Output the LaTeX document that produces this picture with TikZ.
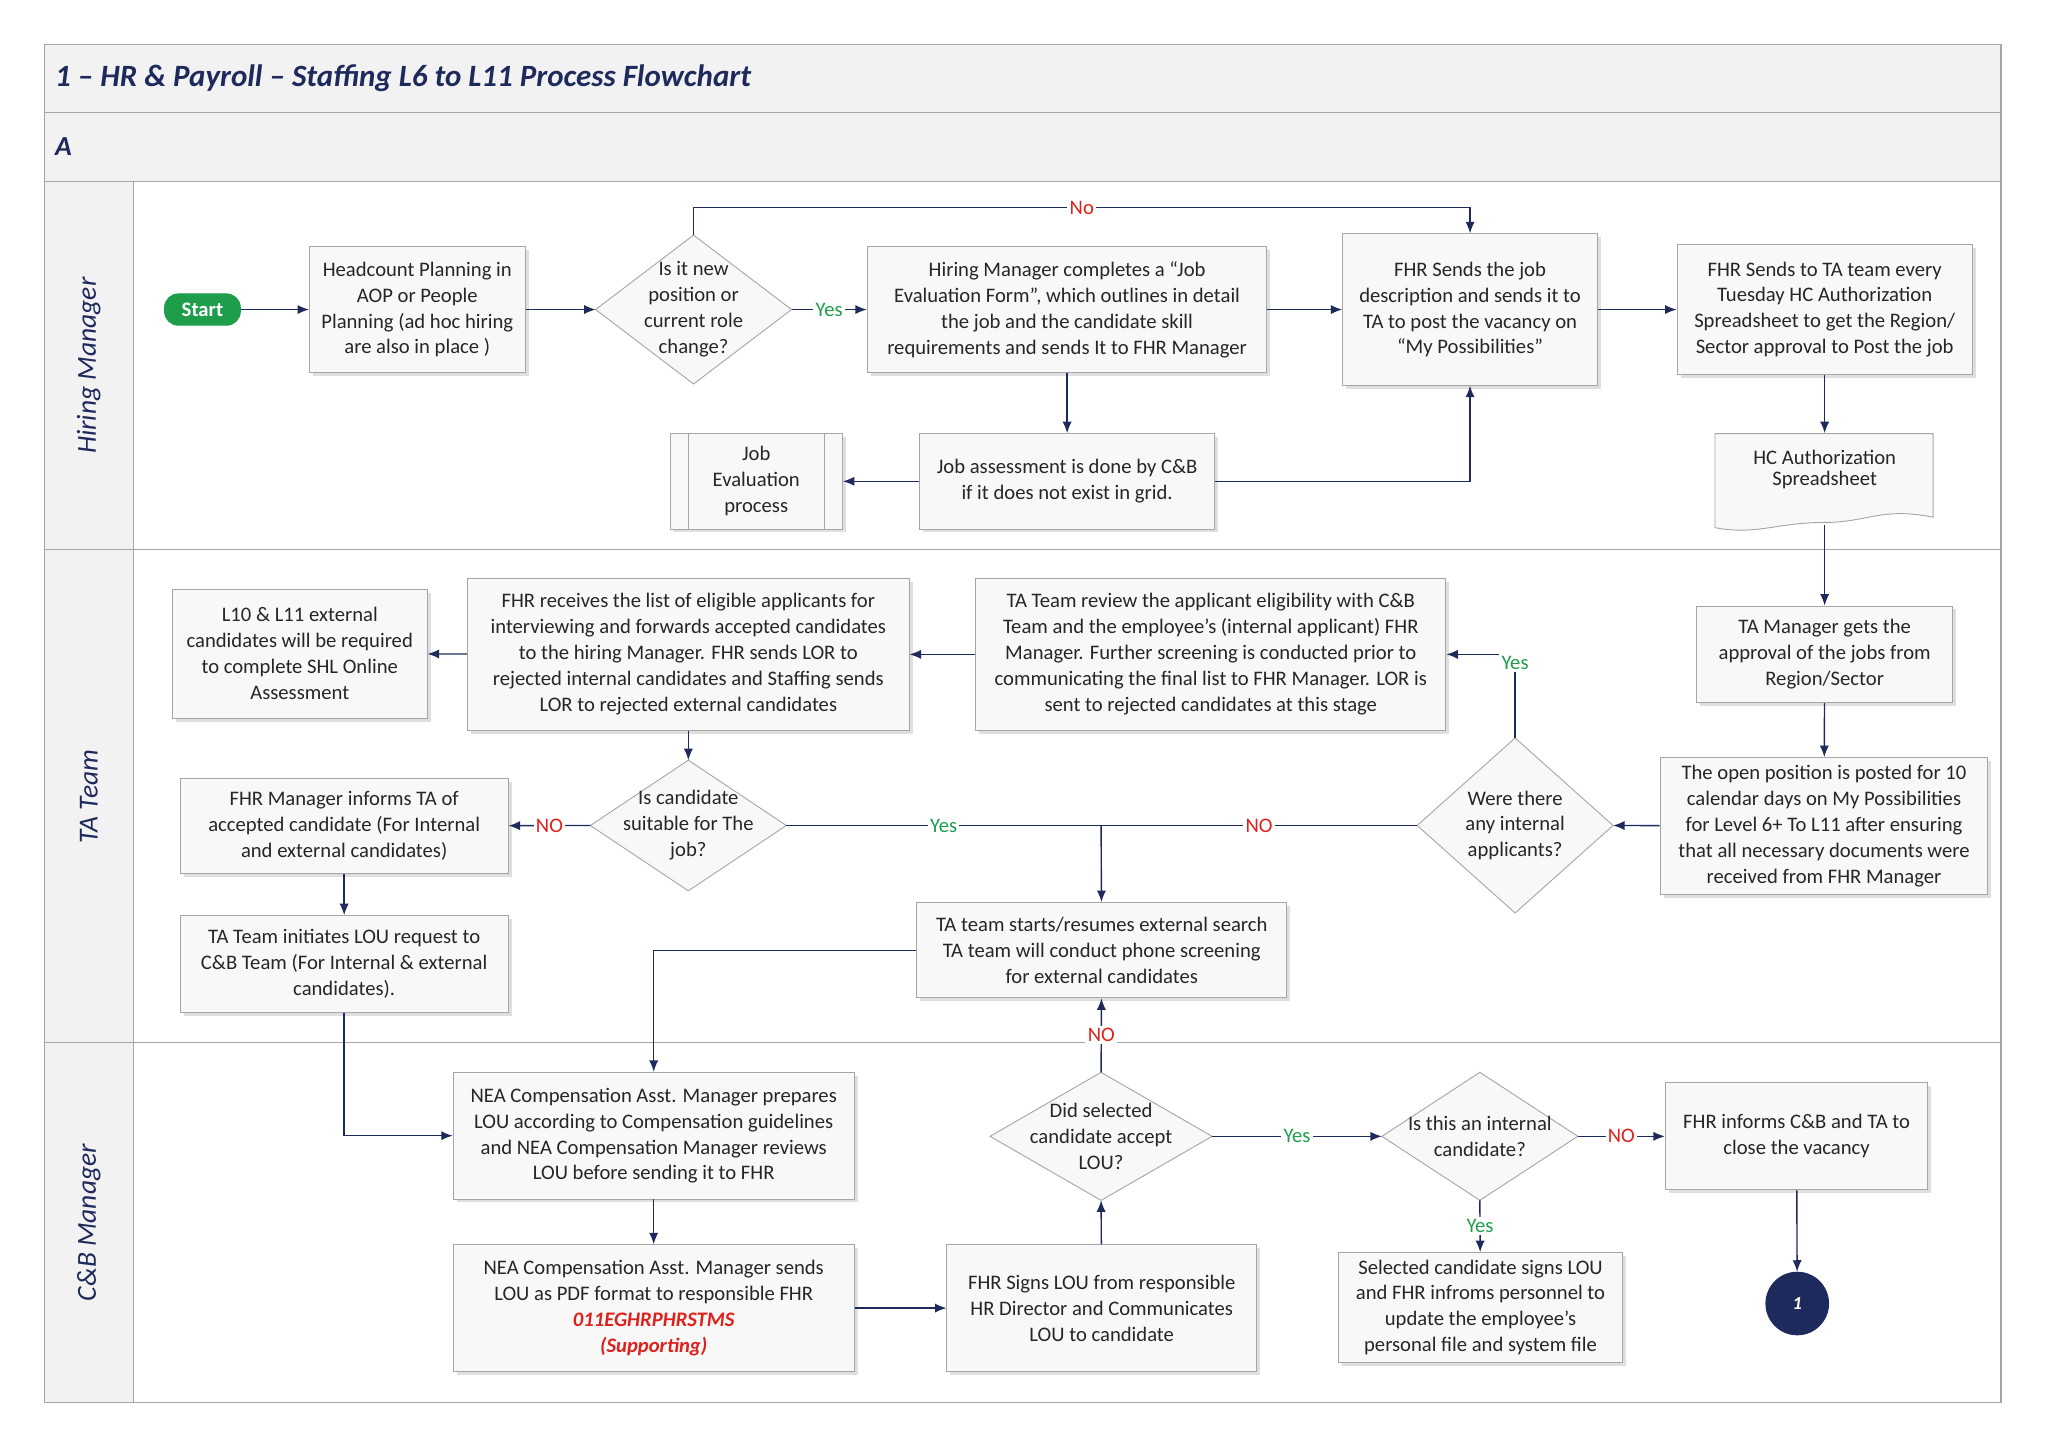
\documentclass[tikz,border=0pt]{standalone}
\usepackage{fontspec}
\setmainfont{Carlito}
\usetikzlibrary{shapes.geometric,arrows.meta,shadows}
\definecolor{navy}{HTML}{1F2A5C}
\definecolor{bord}{HTML}{A6A6A6}
\definecolor{bandg}{HTML}{F2F2F2}
\definecolor{boxf}{HTML}{F8F8F8}
\definecolor{tx}{HTML}{262626}
\definecolor{gyes}{HTML}{1E9E4A}
\definecolor{rno}{HTML}{E0201B}
\newcommand\mydmd[6]{%
 \fill[boxf,draw=bord] (#2-#4/2,#3) -- (#2,#3-#5/2) -- (#2+#4/2,#3) -- (#2,#3+#5/2) -- cycle;
 \node[align=center,inner sep=0pt] (#1t) at (#2,#3) {#6};
 \coordinate (#1n) at (#2,#3-#5/2); \coordinate (#1s) at (#2,#3+#5/2);
 \coordinate (#1w) at (#2-#4/2,#3); \coordinate (#1e) at (#2+#4/2,#3);}
\begin{document}
\begin{tikzpicture}[x=0.02cm,y=-0.02cm,
 every node/.style={font=\fontsize{9}{11.3}\selectfont,text=tx},
 box/.style={draw=bord,fill=boxf,align=center,inner sep=2pt,drop shadow={shadow xshift=1.5pt,shadow yshift=-1.5pt,fill=black!25}},
 ln/.style={draw=navy,line width=0.6pt},
 ar/.style={ln,-{Latex[length=5pt,width=4pt]}},
 yes/.style={fill=white,text=gyes,inner sep=1pt},
 no/.style={fill=white,text=rno,inner sep=1pt},
 lane/.style={rotate=90,font=\fontsize{12}{14}\selectfont\itshape,text=navy}]
\useasboundingbox (0,0) rectangle (1568,1108);
% frame
\fill[bandg] (34,34) rectangle (1532,139);
\fill[bandg] (34,139) rectangle (102,1074);
\draw[bord,line width=0.6pt] (34,34) rectangle (1532,1074);
\draw[bord] (34,86) -- (1532,86) (34,139) -- (1532,139) (34,421) -- (1532,421) (34,798) -- (1532,798) (102,139) -- (102,1074);
\node[anchor=west,font=\fontsize{13.5}{16}\selectfont\bfseries\itshape,text=navy] (title) at (36,60) {1 – HR \& Payroll – Staffing L6 to L11 Process Flowchart};
\node[anchor=west,font=\fontsize{12}{14}\selectfont\bfseries\itshape,text=navy] (la) at (36,112) {A};
\node[lane] (l1) at (68,280) {Hiring Manager};
\node[lane] (l2) at (68,610) {TA Team};
\node[lane] (l3) at (68,936) {C\&B Manager};
% nodes
\node[draw=gyes,fill=gyes,rounded corners=6pt,minimum width=58*0.02cm,minimum height=24*0.02cm,text=white,font=\fontsize{9}{11}\selectfont\bfseries] (start) at (155,237) {Start};
\node[box,minimum width=165*0.02cm,minimum height=96*0.02cm] (hc) at (319.5,237) {Headcount Planning in\\AOP or People\\Planning (ad hoc hiring\\are also in place )};
\mydmd{d1}{531}{237}{150}{114}{Is it new\\position or\\current role\\change?}
\node[box,minimum width=306*0.02cm,minimum height=96*0.02cm] (jef) at (817,237) {Hiring Manager completes a “Job\\Evaluation Form”, which outlines in detail\\the job and the candidate skill\\requirements and sends It to FHR Manager};
\node[box,minimum width=195*0.02cm,minimum height=116*0.02cm] (fhr1) at (1125.5,237) {FHR Sends the job\\description and sends it to\\TA to post the vacancy on\\“My Possibilities”};
\node[box,minimum width=226*0.02cm,minimum height=100*0.02cm] (fhr2) at (1397,237) {FHR Sends to TA team every\\Tuesday HC Authorization\\Spreadsheet to get the Region/\\Sector approval to Post the job};
\node[box,minimum width=226*0.02cm,minimum height=73*0.02cm] (ja) at (817,368.5) {Job assessment is done by C\&B\\if it does not exist in grid.};
\node[box,minimum width=132*0.02cm,minimum height=73*0.02cm] (jep) at (579,368.5) {Job\\Evaluation\\process};
\draw[bord] (527,332) -- (527,405) (631,332) -- (631,405);
\fill[boxf] (1313,332) -- (1480,332) -- (1480,396) .. controls (1440,388) and (1430,400) .. (1397,400) .. controls (1360,400) and (1345,410) .. (1313,404) -- cycle;
\draw[bord] (1313,332) -- (1480,332) -- (1480,396) .. controls (1440,388) and (1430,400) .. (1397,400) .. controls (1360,400) and (1345,410) .. (1313,404) -- cycle;
\node[align=center,minimum width=167*0.02cm,minimum height=73*0.02cm] (hcs) at (1397,368.5) {\raisebox{12pt}{\shortstack{HC Authorization\\Spreadsheet}}};
\node[box,minimum width=196*0.02cm,minimum height=74*0.02cm] (tam) at (1397,501) {TA Manager gets the\\approval of the jobs from\\Region/Sector};
\node[box,minimum width=251*0.02cm,minimum height=105*0.02cm] (open) at (1396.5,632.5) {The open position is posted for 10\\calendar days on My Possibilities\\for Level 6+ To L11 after ensuring\\that all necessary documents were\\received from FHR Manager};
\mydmd{d2}{1160}{632}{150}{134}{Were there\\any internal\\applicants?}
\node[box,minimum width=360*0.02cm,minimum height=116*0.02cm] (tar) at (927,501) {TA Team review the applicant eligibility with C\&B\\Team and the employee’s (internal applicant) FHR\\Manager. Further screening is conducted prior to\\communicating the final list to FHR Manager. LOR is\\sent to rejected candidates at this stage};
\node[box,minimum width=338*0.02cm,minimum height=116*0.02cm] (fhrr) at (527,501) {FHR receives the list of eligible applicants for\\interviewing and forwards accepted candidates\\to the hiring Manager. FHR sends LOR to\\rejected internal candidates and Staffing sends\\LOR to rejected external candidates};
\node[box,minimum width=195*0.02cm,minimum height=99*0.02cm] (l10) at (229.5,500.5) {L10 \& L11 external\\candidates will be required\\to complete SHL Online\\Assessment};
\mydmd{d3}{527}{632}{150}{100}{Is candidate\\suitable for The\\job?}
\node[box,minimum width=251*0.02cm,minimum height=73*0.02cm] (fi) at (263.5,632.5) {FHR Manager informs TA of\\accepted candidate (For Internal\\and external candidates)};
\node[box,minimum width=251*0.02cm,minimum height=74*0.02cm] (tai) at (263.5,738) {TA Team initiates LOU request to\\C\&B Team (For Internal \& external\\candidates).};
\node[box,minimum width=283*0.02cm,minimum height=73*0.02cm] (ext) at (843.5,727.5) {TA team starts/resumes external search\\TA team will conduct phone screening\\for external candidates};
\node[box,minimum width=307*0.02cm,minimum height=97*0.02cm] (nea1) at (500.5,869.5) {NEA Compensation Asst. Manager prepares\\LOU according to Compensation guidelines\\and NEA Compensation Manager reviews\\LOU before sending it to FHR};
\node[box,minimum width=307*0.02cm,minimum height=97*0.02cm] (nea2) at (500.5,1001.5) {NEA Compensation Asst. Manager sends\\LOU as PDF format to responsible FHR\\{\color{rno}\bfseries\itshape 011EGHRPHRSTMS}\\{\color{rno}\bfseries\itshape (Supporting)}};
\node[box,minimum width=237*0.02cm,minimum height=97*0.02cm] (fs) at (843.5,1001.5) {FHR Signs LOU from responsible\\HR Director and Communicates\\LOU to candidate};
\mydmd{d4}{843}{870}{170}{98}{Did selected\\candidate accept\\LOU?}
\mydmd{d5}{1133}{870}{150}{98}{Is this an internal\\candidate?}
\node[box,minimum width=201*0.02cm,minimum height=82*0.02cm] (fc) at (1375.5,870) {FHR informs C\&B and TA to\\close the vacancy};
\node[box,minimum width=217*0.02cm,minimum height=84*0.02cm] (sc) at (1133.5,1001) {Selected candidate signs LOU\\and FHR infroms personnel to\\update the employee’s\\personal file and system file};
\node[circle,fill=navy,draw=navy,minimum size=48*0.02cm,text=white,font=\fontsize{8}{9}\selectfont\bfseries\itshape] (c1) at (1376,998) {1};
\coordinate (m1) at (843,632);
% edges
\draw[ar] (start) -- (hc);
\draw[ar] (hc) -- (d1w);
\draw[ar] (d1e) -- node[yes]{Yes} (jef);
\draw[ar] (d1n) -- (531,159) -- node[no]{No} (1125.5,159) -- (fhr1.north);
\draw[ar] (jef) -- (fhr1);
\draw[ar] (fhr1) -- (fhr2);
\draw[ar] (jef) -- (ja);
\draw[ar] (ja) -- (jep);
\draw[ar] (ja.east) -- (1125.5,368.5) -- (fhr1.south);
\draw[ar] (fhr2) -- (hcs);
\draw[ar] (1397,402) -- (tam.north);
\draw[ar] (tam) -- (open);
\draw[ar] (open) -- (d2e);
\draw[ar] (d2n) -- node[yes,pos=0.9]{Yes} (1160,501) -- (tar.east);
\draw[ar] (tar) -- (fhrr);
\draw[ar] (fhrr) -- (l10);
\draw[ar] (fhrr) -- (d3n);
\draw[ar] (d3w) -- node[no]{NO} (fi);
\draw[ln] (d3e) -- node[yes]{Yes} (m1);
\draw[ln] (d2w) -- node[no]{NO} (m1);
\draw[ar] (m1) -- (ext);
\draw[ar] (fi) -- (tai);
\draw[ar] (tai.south) -- (263.5,869.5) -- (nea1.west);
\draw[ar] (ext.west) -- (500.5,727.5) -- (nea1.north);
\draw[ar] (nea1) -- (nea2);
\draw[ar] (nea2) -- (fs);
\draw[ar] (fs) -- (d4s);
\draw[ar] (d4n) -- node[no]{NO} (ext);
\draw[ar] (d4e) -- node[yes]{Yes} (d5w);
\draw[ar] (d5e) -- node[no]{NO} (fc);
\draw[ar] (d5s) -- node[yes]{Yes} (sc);
\draw[ar] (fc) -- (c1);
\end{tikzpicture}
\end{document}
